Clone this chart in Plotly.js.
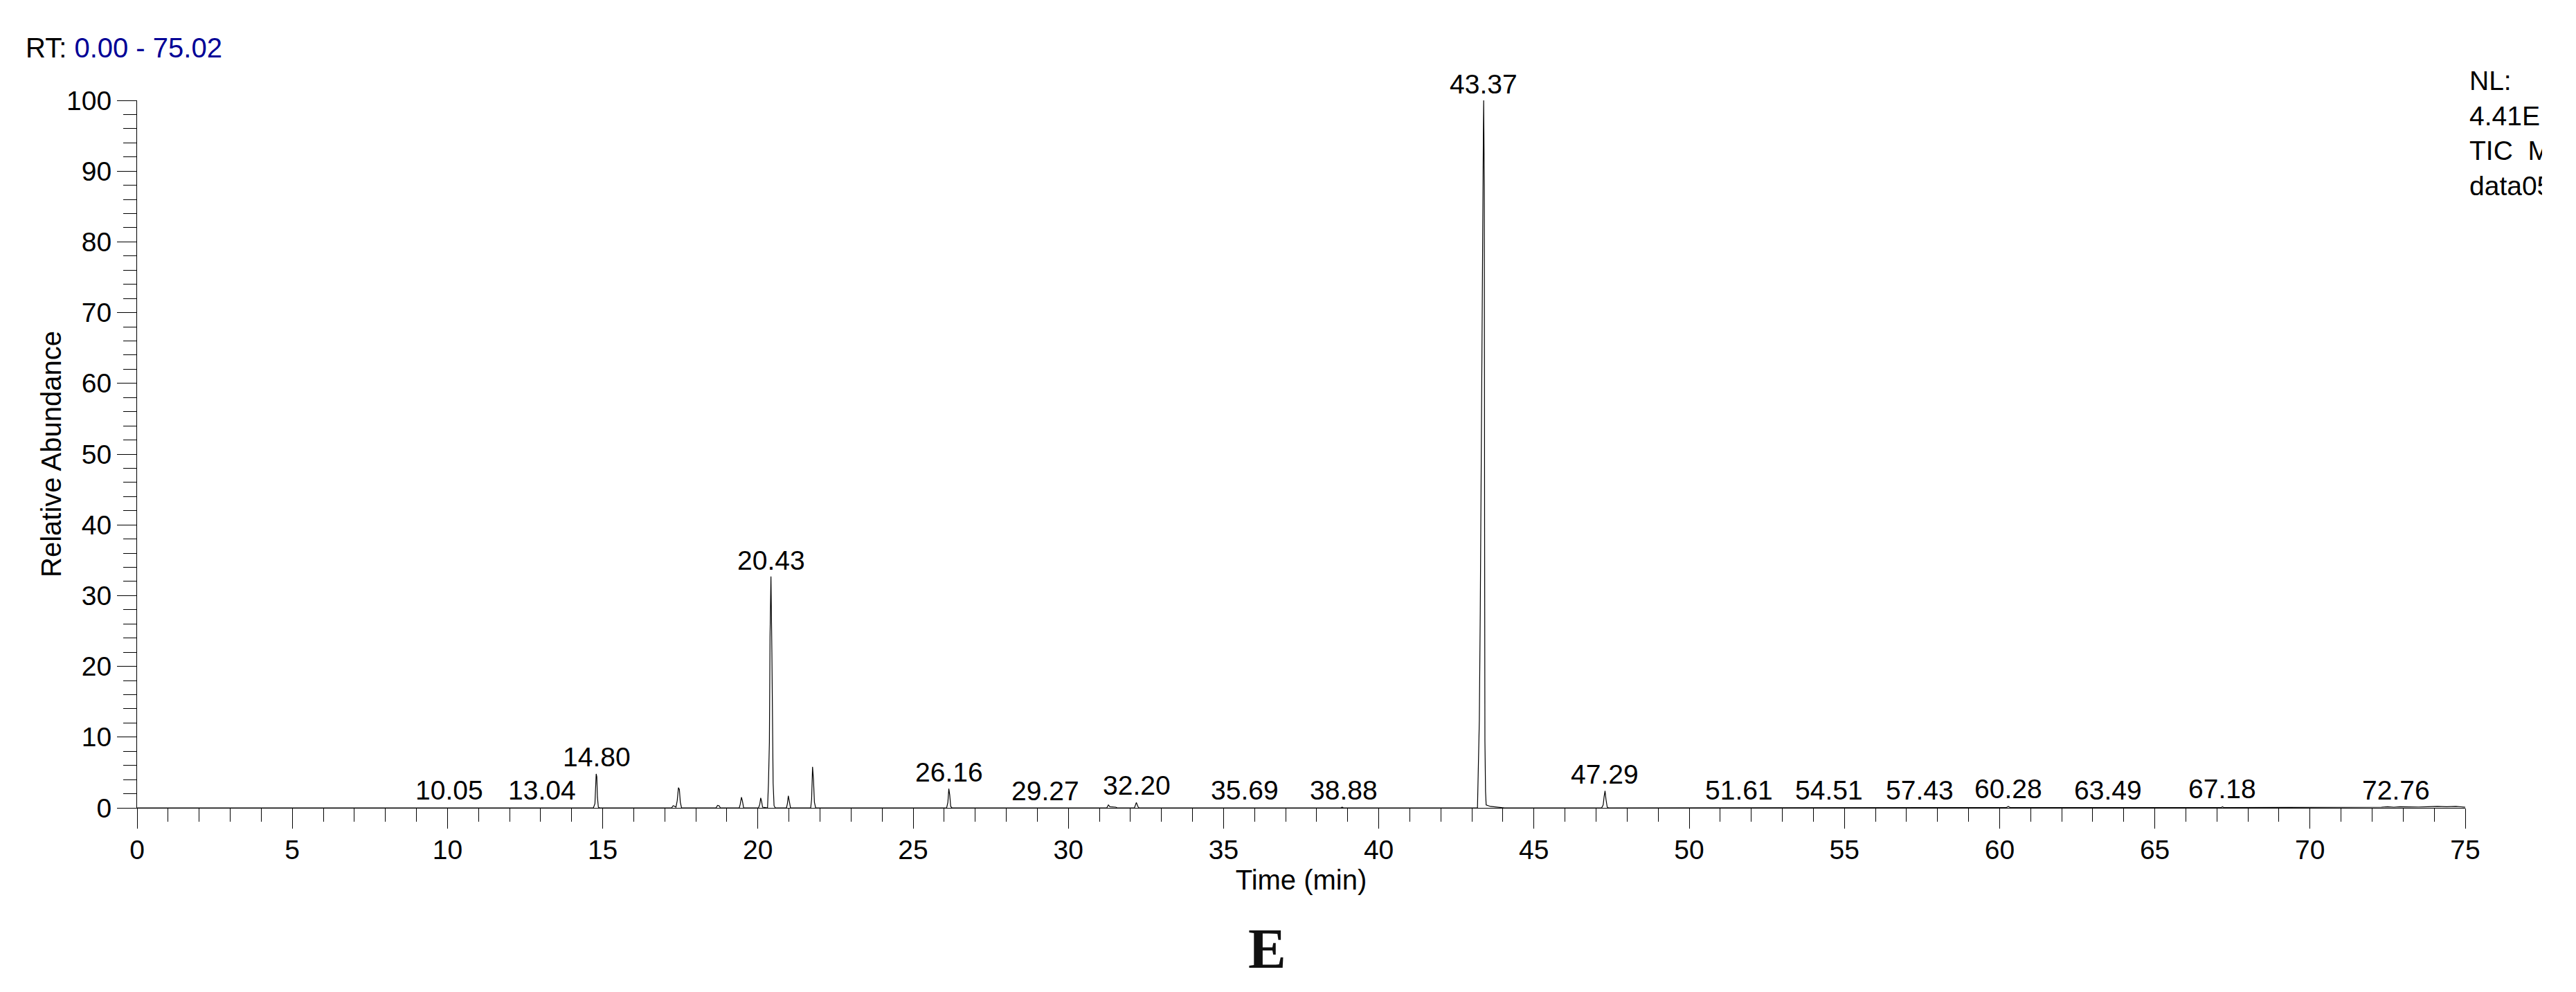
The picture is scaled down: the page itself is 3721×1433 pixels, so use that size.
<!DOCTYPE html>
<html>
<head>
<meta charset="utf-8">
<script src="https://cdn.plot.ly/plotly-3.0.1.min.js"></script>
<style>
  html, body { margin: 0; padding: 0; background: #ffffff; }
  #chart { width: 3672px; height: 1433px; overflow: hidden; }
</style>
</head>
<body>
<div id="chart"></div>
<script>
// Retention time (min) and relative abundance (%) of the TIC trace
const timeMin = [
  0, 14.70, 14.75, 14.77, 14.79, 14.81, 14.83, 14.86, 14.90,
  17.22, 17.27, 17.31, 17.36, 17.40, 17.44, 17.47, 17.50, 17.54,
  18.65, 18.70, 18.75, 18.79,
  19.40, 19.43, 19.47, 19.50, 19.54,
  20.02, 20.06, 20.09, 20.12, 20.15,
  20.31, 20.34, 20.37, 20.39, 20.42, 20.45, 20.47, 20.49, 20.52, 20.56,
  20.92, 20.95, 20.98, 21.01, 21.05,
  21.70, 21.73, 21.76, 21.79, 21.82, 21.86,
  26.08, 26.12, 26.15, 26.18, 26.21, 26.25,
  31.24, 31.29, 31.34, 31.53, 31.57,
  32.13, 32.19, 32.25, 32.28,
  38.78, 38.82, 38.86,
  43.18, 43.24, 43.27, 43.31, 43.35, 43.37, 43.38, 43.40, 43.41, 43.42, 43.44, 43.46, 43.60, 43.93, 44.05,
  47.18, 47.23, 47.26, 47.29, 47.32, 47.36, 47.40,
  56.30, 56.35, 56.90, 57.00, 57.60, 58.40,
  60.22, 60.28, 60.34,
  67.14, 67.18, 67.22,
  71.40, 71.50, 71.60, 72.30, 72.50, 72.70, 72.90, 73.20, 73.50, 73.80, 74.10, 74.40, 74.70, 75.00
];
const abundance = [
  0, 0, 0.6, 3.0, 4.8, 4.4, 1.5, 0.1, 0,
  0, 0.3, 0.25, 0.1, 1.0, 2.85, 2.6, 0.8, 0,
  0, 0.35, 0.3, 0,
  0, 0.5, 1.5, 1.0, 0,
  0, 0.5, 1.4, 0.9, 0.1,
  0, 3.5, 9.3, 24, 32.7, 22, 11.4, 3.5, 0.3, 0,
  0, 0.6, 1.7, 1.1, 0,
  0, 1.2, 5.8, 4.0, 0.8, 0,
  0, 0.8, 2.7, 1.8, 0.2, 0,
  0, 0.42, 0.15, 0.1, 0,
  0, 0.75, 0.1, 0,
  0, 0.1, 0,
  0, 12.4, 27.8, 59, 80.2, 95.3, 100, 87.8, 39.3, 9.5, 2.3, 0.4, 0.2, 0.05, 0,
  0, 0.4, 1.6, 2.4, 1.2, 0.1, 0,
  0, 0.06, 0.06, 0.04, 0.05, 0.05,
  0.05, 0.2, 0.05,
  0.05, 0.15, 0.05,
  0.05, 0.12, 0.05, 0.1, 0.15, 0.1, 0.15, 0.1, 0.12, 0.15, 0.2, 0.15, 0.2, 0.1
];

// Peak labels (retention time text) and the abundance they sit above
const labelRT = [10.05, 13.04, 14.80, 20.43, 26.16, 29.27, 32.20, 35.69, 38.88,
                 43.37, 47.29, 51.61, 54.51, 57.43, 60.28, 63.49, 67.18, 72.76];
const labelY  = [0.2, 0.2, 4.9, 32.7, 2.7, 0.1, 0.9, 0.2, 0.2,
                 100, 2.4, 0.2, 0.2, 0.2, 0.4, 0.2, 0.4, 0.2];

const xTicks = [0, 5, 10, 15, 20, 25, 30, 35, 40, 45, 50, 55, 60, 65, 70, 75];
const yTicks = [0, 10, 20, 30, 40, 50, 60, 70, 80, 90, 100];

const FONT = 'Liberation Sans, Arial, Helvetica, sans-serif';

const trace = {
  x: timeMin,
  y: abundance,
  type: 'scatter',
  mode: 'lines',
  line: { color: '#000000', width: 1.2 },
  hoverinfo: 'skip'
};

const peakAnnotations = labelRT.map((rt, i) => ({
  x: rt, y: labelY[i], xref: 'x', yref: 'y',
  text: rt.toFixed(2), showarrow: false,
  xanchor: 'center', yanchor: 'bottom',
  font: { family: FONT, size: 39, color: '#000000' }
}));

const layout = {
  width: 3672,
  height: 1433,
  paper_bgcolor: '#ffffff',
  plot_bgcolor: '#ffffff',
  showlegend: false,
  margin: { l: 198, r: 111, t: 145, b: 266, pad: 0 },
  font: { family: FONT, size: 39, color: '#000000' },
  xaxis: {
    range: [0, 75],
    tickmode: 'array',
    tickvals: xTicks,
    ticktext: xTicks.map(String),
    ticks: 'outside', ticklen: 29, tickwidth: 1, tickcolor: '#000000',
    ticklabelstandoff: -3,
    minor: { dtick: 1, ticks: 'outside', ticklen: 19, tickwidth: 1, tickcolor: '#000000', showgrid: false },
    showline: true, linecolor: '#000000', linewidth: 1,
    showgrid: false, zeroline: false,
    tickfont: { family: FONT, size: 39, color: '#000000' },
    title: { text: 'Time (min)', font: { family: FONT, size: 40, color: '#000000' }, standoff: 9 },
    automargin: false
  },
  yaxis: {
    range: [0, 100],
    tickmode: 'array',
    tickvals: yTicks,
    ticktext: yTicks.map(String),
    ticks: 'outside', ticklen: 28, tickwidth: 1, tickcolor: '#000000',
    minor: { dtick: 2, ticks: 'outside', ticklen: 19, tickwidth: 1, tickcolor: '#000000', showgrid: false },
    showline: true, linecolor: '#000000', linewidth: 1,
    showgrid: false, zeroline: false,
    tickfont: { family: FONT, size: 39, color: '#000000' },
    automargin: false
  },
  annotations: peakAnnotations.concat([
    {
      xref: 'paper', yref: 'paper', x: -0.0369, y: 0.5,
      xanchor: 'center', yanchor: 'middle', showarrow: false, textangle: -90,
      text: 'Relative Abundance',
      font: { family: FONT, size: 40, color: '#000000' }
    },
    {
      xref: 'paper', yref: 'paper', x: -0.0485, y: 1.0504,
      xanchor: 'left', yanchor: 'bottom', showarrow: false,
      text: 'RT: <span style="color:#000096">0.00 - 75.02</span>',
      font: { family: FONT, size: 40, color: '#000000' }
    },
    {
      xref: 'paper', yref: 'paper', x: 1.0012, y: 1.0513,
      xanchor: 'left', yanchor: 'top', align: 'left', showarrow: false,
      text: 'NL:<br>4.41E<br>TIC  MS<br>data05',
      font: { family: FONT, size: 39, color: '#000000' }
    },
    {
      xref: 'paper', yref: 'paper', x: 0.4853, y: -0.1996,
      xanchor: 'center', yanchor: 'middle', showarrow: false,
      text: '<b>E</b>',
      font: { family: 'Liberation Serif, Times New Roman, serif', size: 82, color: '#111111' }
    }
  ])
};

Plotly.newPlot('chart', [trace], layout, { staticPlot: true, displayModeBar: false });
</script>
</body>
</html>
